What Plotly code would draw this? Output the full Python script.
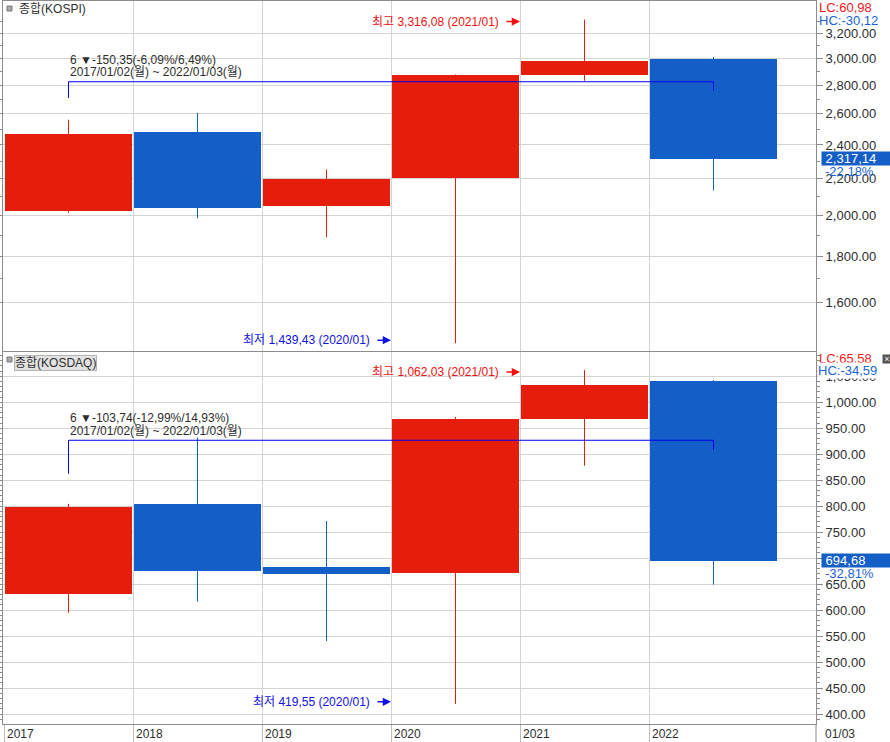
import math
import plotly.graph_objects as go

# ---------------- data ----------------
years = ["2017", "2018", "2019", "2020", "2021", "2022"]

kospi_open = [2026.16, 2479.65, 2050.55, 2201.21, 2874.50, 2998.32]
kospi_high = [2561.63, 2607.10, 2252.05, 2878.21, 3316.08, 3010.77]
kospi_low = [2015.00, 1985.95, 1891.81, 1439.43, 2832.00, 2134.77]
kospi_close = [2467.49, 2041.04, 2197.67, 2873.47, 2977.65, 2317.14]

kosdaq_open = [631.44, 804.00, 682.50, 671.40, 968.40, 1041.00]
kosdaq_high = [804.50, 932.01, 771.50, 971.70, 1062.03, 1043.00]
kosdaq_low = [595.00, 616.20, 540.50, 419.55, 878.00, 649.00]
kosdaq_close = [798.42, 675.65, 669.83, 968.42, 1033.98, 694.68]

kospi_ticks = [1600, 1800, 2000, 2200, 2400, 2600, 2800, 3000, 3200]
kospi_minor = [1700, 1900, 2100, 2300, 2500, 2700, 2900, 3100, 3300]
kosdaq_ticks = [400, 450, 500, 550, 600, 650, 700, 750, 800, 850, 900, 950, 1000, 1050]

# measure-line levels (start, level, end)
kospi_measure = [2709, 2825, 2759]
kosdaq_measure = [862.6, 926.9, 908.2]

# ---------------- layout helpers ----------------
W, H = 890, 742
ML, MR, MT, MB = 3, 74, 1, 18
PW, PH = W - ML - MR, H - MT - MB
RED = "#E71D0B"
BLUE = "#145EC8"
GRID = "#D4D4D4"
AXC = "#8C8C8C"
TXT = "#2E2E2E"
FONT = "Liberation Sans, Noto Sans CJK KR, sans-serif"


def fx(px):
    return (px - ML) / PW


def fy(py):
    return (H - MB - py) / PH


xr = [(ML - 68.5) / 129, (W - MR - 68.5) / 129]
xi = list(range(len(years)))
bounds = [-0.5, 0.5, 1.5, 2.5, 3.5, 4.5]

fig = go.Figure()


def add_candles(o, h, l, c, xa, ya):
    for up in (True, False):
        col = RED if up else BLUE
        wx, wy = [], []
        bx, bb, bh = [], [], []
        for i in xi:
            if (c[i] >= o[i]) != up:
                continue
            wx += [i, i, None]
            wy += [l[i], h[i], None]
            bx.append(i)
            bb.append(min(o[i], c[i]))
            bh.append(abs(c[i] - o[i]))
        fig.add_trace(go.Scatter(x=wx, y=wy, mode="lines", line=dict(color=col, width=1),
                                 xaxis=xa, yaxis=ya, hoverinfo="skip", showlegend=False))
        fig.add_trace(go.Bar(x=bx, y=bh, base=bb, width=0.984, marker=dict(color=col, line=dict(width=0)),
                             xaxis=xa, yaxis=ya, hoverinfo="skip", showlegend=False))


add_candles(kospi_open, kospi_high, kospi_low, kospi_close, "x", "y")
add_candles(kosdaq_open, kosdaq_high, kosdaq_low, kosdaq_close, "x2", "y2")

for m, xa, ya in ((kospi_measure, "x", "y"), (kosdaq_measure, "x2", "y2")):
    fig.add_trace(go.Scatter(x=[0, 0, 5, 5], y=[m[0], m[1], m[1], m[2]], mode="lines",
                             line=dict(color="#0000F0", width=1), xaxis=xa, yaxis=ya,
                             hoverinfo="skip", showlegend=False))

common_x = dict(range=xr, tickmode="array", tickvals=bounds, showgrid=True, gridcolor=GRID,
                gridwidth=1, zeroline=False, fixedrange=True, automargin=False)
fig.update_layout(
    width=W, height=H,
    margin=dict(l=ML, r=MR, t=MT, b=MB, pad=0, autoexpand=False),
    paper_bgcolor="white", plot_bgcolor="white",
    barmode="overlay", bargap=0, showlegend=False, hovermode=False,
    font=dict(family=FONT, size=12, color=TXT),
    xaxis=dict(**common_x, anchor="y", showticklabels=False, ticks="",
               showline=True, mirror=True, linecolor=AXC, linewidth=1),
    xaxis2=dict(**common_x, anchor="y2", matches="x", showticklabels=False, ticks="outside",
                ticklen=18, tickcolor="#BDBDBD", tickwidth=1,
                showline=True, linecolor=AXC, linewidth=1),
    yaxis=dict(domain=[fy(351), 1], type="log", side="right", anchor="x", automargin=False,
               range=[math.log10(1410.6), math.log10(3479.0)],
               tickmode="array", tickvals=kospi_ticks,
               ticktext=[f"{v:,.2f}" for v in kospi_ticks],
               showgrid=True, gridcolor=GRID, zeroline=False,
               showline=True, linecolor=AXC, linewidth=1, mirror="allticks",
               ticks="outside", ticklen=6, tickcolor=AXC,
               minor=dict(tickmode="array", tickvals=kospi_minor, ticks="outside", ticklen=3,
                          tickcolor=AXC, showgrid=False),
               tickfont=dict(size=13, color=TXT), fixedrange=True),
    yaxis2=dict(domain=[0, fy(352)], side="right", anchor="x2", automargin=False,
                range=[380.8, 1096.8],
                tickmode="array", tickvals=kosdaq_ticks,
                ticktext=[f"{v:,.2f}" for v in kosdaq_ticks],
                showgrid=True, gridcolor=GRID, zeroline=False,
                showline=True, linecolor=AXC, linewidth=1, mirror="allticks",
                ticks="outside", ticklen=6, tickcolor=AXC,
                minor=dict(dtick=10, tick0=0, ticks="outside", ticklen=3, tickcolor=AXC, showgrid=False),
                tickfont=dict(size=13, color=TXT), fixedrange=True),
)

ann = []
# x labels
for i, yr in enumerate(years):
    ann.append(dict(x=i - 0.5, xref="x2", y=0, yref="paper", yanchor="top", xanchor="left",
                    text=yr, showarrow=False, xshift=1, yshift=-1,
                    font=dict(size=12, color=TXT)))
ann.append(dict(x=fx(823), xref="paper", y=0, yref="paper", yanchor="top", xanchor="left",
                text="01/03", showarrow=False, yshift=-1, font=dict(size=12, color=TXT)))

# titles
ann.append(dict(x=fx(17), xref="paper", y=fy(9), yref="paper", xanchor="left", yanchor="middle",
                text="종합(KOSPI)", showarrow=False, font=dict(size=12, color=TXT)))
ann.append(dict(x=fx(14), xref="paper", y=fy(362.7), yref="paper", xanchor="left", yanchor="middle",
                text="종합(KOSDAQ)", showarrow=False, font=dict(size=12, color=TXT),
                bgcolor="#E2E2E2", bordercolor="#B4B4B4", borderwidth=1, borderpad=0))

# measure texts
for l1, l2, y1, y2, ya in (
    ("6 ▼-150,35(-6,09%/6,49%)", "2017/01/02(월) ~ 2022/01/03(월)", 60, 72, "y"),
    ("6 ▼-103,74(-12,99%/14,93%)", "2017/01/02(월) ~ 2022/01/03(월)", 418.5, 431, "y2"),
):
    for t, yy in ((l1, y1), (l2, y2)):
        ann.append(dict(x=0, xref="x", y=fy(yy), yref="paper", xanchor="left", yanchor="middle",
                        text=t, showarrow=False, xshift=-1, font=dict(size=12, color=TXT)))

# high / low labels with arrows
RED_T = "#F01010"
BLUE_T = "#1010E8"
for txt, xv, yv, xa, ya, col, ys in (
    ("최고 3,316,08 (2021/01)", 3.5, math.log10(kospi_high[4]), "x", "y", RED_T, -2),
    ("최저 1,439,43 (2020/01)", 2.5, math.log10(kospi_low[3]), "x", "y", BLUE_T, 3),
    ("최고 1,062,03 (2021/01)", 3.5, kosdaq_high[4], "x2", "y2", RED_T, -2),
    ("최저 419,55 (2020/01)", 2.5, kosdaq_low[3], "x2", "y2", BLUE_T, 2),
):
    ann.append(dict(x=xv, xref=xa, y=yv, yref=ya, xanchor="right", yanchor="middle",
                    text=txt, showarrow=False, xshift=-19, yshift=ys, font=dict(size=12, color=col)))
    ann.append(dict(x=xv, xref=xa, y=yv, yref=ya, text="", showarrow=True,
                    ax=-15, ay=0, xshift=0, yshift=ys, arrowhead=2, arrowsize=1.1, arrowwidth=1.5,
                    arrowcolor=col, standoff=0, startstandoff=0))

# right side LC / HC
LC_C = "#F01818"
HC_C = "#1A64D6"
ann += [
    dict(x=fx(817), xref="paper", y=fy(8), yref="paper", xanchor="left", yanchor="middle",
         text="LC:60,98", showarrow=False, font=dict(size=13, color=LC_C)),
    dict(x=fx(817), xref="paper", y=fy(20), yref="paper", xanchor="left", yanchor="middle",
         text="HC:-30,12", showarrow=False, font=dict(size=13, color=HC_C)),
    dict(x=fx(817), xref="paper", y=fy(358.5), yref="paper", xanchor="left", yanchor="middle",
         text="LC:65,58", showarrow=False, font=dict(size=13, color=LC_C)),
    dict(x=fx(817), xref="paper", y=fy(371), yref="paper", xanchor="left", yanchor="middle",
         text="HC:-34,59", showarrow=False, font=dict(size=13, color=HC_C),
         bgcolor="white", borderpad=0),
    dict(x=fx(882), xref="paper", y=fy(359), yref="paper", xanchor="left", yanchor="middle",
         text="×", showarrow=False, font=dict(size=9, color="white"), bgcolor="#555555",
         width=8, height=8, borderpad=0),
]

# current price boxes
for val, pct, ya in ((kospi_close[5], "-22,18%", "y"), (kosdaq_close[5], "-32,81%", "y2")):
    yv = math.log10(val) if ya == "y" else val
    txt = f"{val:,.2f}".replace(".", ",")
    ann.append(dict(x=fx(821), xref="paper", y=yv, yref=ya, xanchor="left", yanchor="middle",
                    text=" " + txt, showarrow=False, align="left", width=69, height=13, borderpad=0,
                    bgcolor="#145EC8", font=dict(size=13, color="white")))
    ann.append(dict(x=fx(823), xref="paper", y=yv, yref=ya, xanchor="left", yanchor="middle",
                    text=pct, showarrow=False, yshift=-13, font=dict(size=13, color=HC_C)))

fig.update_layout(annotations=ann)

# small title icons and right-edge separator in label strip
shapes = []
for ytop in (6, 357):
    shapes.append(dict(type="rect", xref="paper", yref="paper", x0=fx(7), x1=fx(12),
                       y0=fy(ytop + 5), y1=fy(ytop), fillcolor="#A8A8A8",
                       line=dict(color="#7A7A7A", width=1)))
shapes.append(dict(type="line", xref="paper", yref="paper", x0=1, x1=1, y0=fy(H), y1=0,
                   line=dict(color=AXC, width=1)))
fig.update_layout(shapes=shapes)

fig.write_html("out.html", config={"displayModeBar": False},
               post_script="document.body.style.margin='0';document.body.style.overflow='hidden';")
